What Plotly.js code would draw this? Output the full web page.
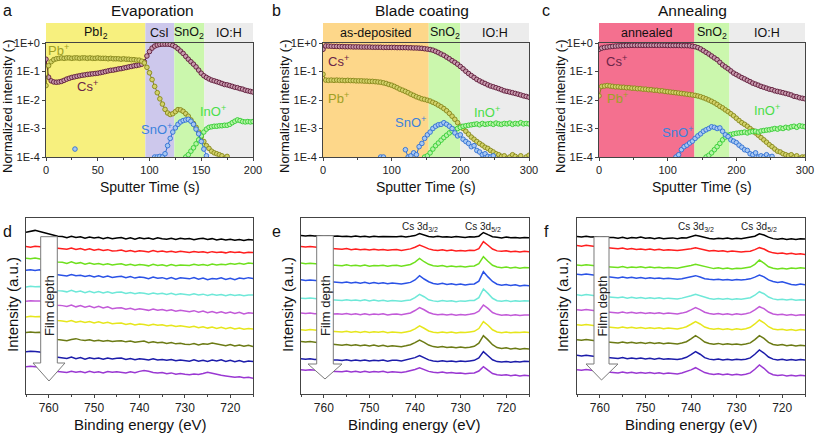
<!DOCTYPE html>
<html><head><meta charset="utf-8">
<script src="https://cdn.plot.ly/plotly-3.0.1.min.js"></script>
<style>html,body{margin:0;padding:0;background:#fff}#chart{width:815px;height:434px}</style>
</head><body><div id="chart"></div>
<script>
const W = 815, H = 434;
const FONT = 'Liberation Sans, Arial, sans-serif';

// ---------- sampling grids ----------
const tA = []; for (let t = 0; t <= 200; t += 2.5) tA.push(t);   // panel a sputter time (s)
const tBC = []; for (let t = 0; t <= 300; t += 4) tBC.push(t);   // panels b, c sputter time (s)
const eV = []; for (let e = 765; e >= 715; e--) eV.push(e);      // binding energy (eV)

// ---------- panel a : Evaporation ----------
const aCs = [0.27,0.063,0.047,0.043,0.042,0.043,0.045,0.049,0.054,0.058,0.062,0.065,0.068,0.071,0.074,0.076,0.079,0.081,0.083,0.085,0.087,0.091,0.095,0.1,0.105,0.11,0.112,0.117,0.123,0.126,0.132,0.138,0.145,0.151,0.158,0.162,0.17,0.18,0.22,0.35,0.5,0.66,0.78,0.85,0.89,0.91,0.91,0.91,0.89,0.83,0.74,0.63,0.52,0.43,0.34,0.27,0.22,0.18,0.145,0.112,0.087,0.071,0.062,0.055,0.05,0.047,0.044,0.041,0.038,0.035,0.034,0.032,0.03,0.028,0.027,0.025,0.024,0.022,0.021,0.02,0.019];
const aPb = [0.032,0.16,0.22,0.26,0.28,0.29,0.3,0.29,0.3,0.3,0.29,0.3,0.3,0.29,0.3,0.3,0.29,0.3,0.29,0.29,0.3,0.29,0.29,0.29,0.28,0.29,0.28,0.28,0.28,0.27,0.28,0.27,0.27,0.26,0.26,0.25,0.25,0.23,0.2,0.14,0.09,0.052,0.03,0.018,0.011,0.0072,0.0047,0.0035,0.0031,0.0033,0.0039,0.0046,0.0045,0.004,0.0033,0.0027,0.002,0.0015,0.0011,0.00075,0.00052,0.00035,0.00025,0.0002,0.00016,0.00014,0.00013,0.00012,0.00011,0.00009,0.000105,0.00008];
const aSnOStart = 105;
const aSnO = [1.0e-4,1.0e-4,1.05e-4,1.0e-4,1.3e-4,2.5e-4,4.5e-4,7.5e-4,1.05e-3,1.4e-3,1.7e-3,1.9e-3,2.0e-3,2.1e-3,1.8e-3,1.4e-3,9.5e-4,6.5e-4,3.5e-4,1.9e-4,1.1e-4];
const aSnOLoneT = [28], aSnOLone = [1.9e-4];
const aInOStart = 135;
const aInO = [1.0e-4,1.2e-4,1.6e-4,2.1e-4,2.9e-4,4.0e-4,5.5e-4,7.5e-4,9.5e-4,1.1e-3,1.15e-3,1.2e-3,1.2e-3,1.25e-3,1.25e-3,1.3e-3,1.3e-3,1.4e-3,1.6e-3,1.8e-3,2.0e-3,1.9e-3,1.75e-3,1.7e-3,1.75e-3,1.7e-3,1.75e-3];
const aBandNames = ['PbI<sub>2</sub>','CsI','SnO<sub>2</sub>','IO:H'];
const aBandEdges = [0,96,124,153,200];

// ---------- panel b : Blade coating ----------
const bCs = [0.6,0.79,0.78,0.77,0.76,0.76,0.75,0.75,0.74,0.74,0.74,0.73,0.73,0.73,0.72,0.72,0.72,0.72,0.71,0.71,0.71,0.71,0.7,0.7,0.7,0.7,0.7,0.69,0.69,0.69,0.69,0.68,0.68,0.67,0.67,0.66,0.65,0.63,0.61,0.59,0.56,0.51,0.46,0.41,0.37,0.32,0.28,0.24,0.21,0.18,0.15,0.125,0.102,0.085,0.072,0.062,0.053,0.047,0.042,0.038,0.034,0.031,0.029,0.027,0.025,0.023,0.021,0.02,0.019,0.018,0.017,0.016,0.015,0.014,0.0133,0.0125];
const bPb = [0.08,0.05,0.049,0.05,0.049,0.05,0.049,0.049,0.048,0.049,0.048,0.048,0.047,0.047,0.047,0.046,0.046,0.045,0.045,0.044,0.043,0.042,0.04,0.038,0.035,0.033,0.03,0.027,0.024,0.022,0.02,0.018,0.016,0.0145,0.013,0.012,0.011,0.0105,0.0098,0.0092,0.0083,0.0075,0.0066,0.0058,0.005,0.0042,0.0034,0.0027,0.0021,0.0016,0.0012,0.001,0.0008,0.00063,0.0005,0.00042,0.00035,0.0003,0.00026,0.00022,0.0002,0.00017,0.00015,0.00013,0.00012,0.000105,0.00011,0.00009,0.0001,0.00012,0.000105,0.00009,0.00011,0.00008,0.0001,0.000115];
const bSnOStart = 84;
const bSnO = [1.0e-4,1.0e-4,null,null,null,null,null,null,null,1.8e-4,1.0e-4,1.1e-4,1.4e-4,1.2e-4,2.3e-4,3.0e-4,4.5e-4,6.0e-4,7.5e-4,1.0e-3,1.2e-3,1.35e-3,1.4e-3,1.6e-3,1.4e-3,1.2e-3,1.0e-3,7e-4,5.5e-4,6e-4,4.2e-4,3.5e-4,3e-4,2.3e-4,2.5e-4,1.7e-4,1.5e-4,1.2e-4,1.3e-4,1.05e-4,1.0e-4,1.1e-4];
const bInOStart = 148;
const bInO = [1.0e-4,1.1e-4,1.4e-4,1.9e-4,2.5e-4,3.1e-4,3.9e-4,4.8e-4,5.8e-4,7e-4,8.2e-4,9.2e-4,1.0e-3,1.1e-3,1.2e-3,1.25e-3,1.3e-3,1.35e-3,1.4e-3,1.45e-3,1.35e-3,1.5e-3,1.4e-3,1.45e-3,1.5e-3,1.4e-3,1.55e-3,1.45e-3,1.4e-3,1.5e-3,1.45e-3,1.55e-3,1.4e-3,1.5e-3,1.45e-3,1.6e-3,1.45e-3,1.5e-3,1.45e-3];
const bBandNames = ['as-deposited','SnO<sub>2</sub>','IO:H'];
const bBandEdges = [0,154,200,300];

// ---------- panel c : Annealing ----------
const cCs = [0.6,0.66,0.7,0.72,0.74,0.76,0.78,0.79,0.8,0.81,0.82,0.82,0.83,0.83,0.83,0.83,0.83,0.83,0.83,0.83,0.83,0.83,0.83,0.83,0.83,0.82,0.82,0.82,0.82,0.82,0.81,0.81,0.81,0.8,0.77,0.74,0.69,0.62,0.54,0.47,0.41,0.35,0.3,0.26,0.21,0.17,0.145,0.125,0.105,0.088,0.078,0.069,0.061,0.055,0.049,0.044,0.039,0.036,0.033,0.03,0.028,0.026,0.024,0.023,0.021,0.02,0.019,0.018,0.017,0.016,0.015,0.0135,0.013,0.012,0.0115,0.011];
const cPb = [0.014,0.03,0.031,0.032,0.031,0.03,0.029,0.029,0.028,0.028,0.027,0.027,0.026,0.026,0.025,0.025,0.024,0.024,0.023,0.023,0.022,0.022,0.021,0.021,0.02,0.0195,0.019,0.0185,0.018,0.0175,0.017,0.0165,0.016,0.0155,0.015,0.0145,0.0138,0.013,0.012,0.011,0.01,0.009,0.008,0.007,0.006,0.0053,0.0045,0.0039,0.0033,0.0028,0.0023,0.0019,0.0016,0.0014,0.0012,0.001,0.00085,0.0007,0.00058,0.00048,0.0004,0.00033,0.00027,0.00023,0.00019,0.00016,0.00015,0.00013,0.00012,0.00011,0.00012,0.0001,0.00011,0.00009,0.0001,0.0001];
const cSnOStart = 112;
const cSnO = [1.0e-4,1.2e-4,1.8e-4,2.3e-4,2.6e-4,3.1e-4,3.6e-4,4.5e-4,5.5e-4,6.5e-4,8e-4,9e-4,1.0e-3,1.15e-3,1.1e-3,1.0e-3,1.05e-3,8e-4,6e-4,5.2e-4,4e-4,3.6e-4,3.2e-4,2.6e-4,2.2e-4,1.8e-4,1.7e-4,1.3e-4,1.2e-4,1.4e-4,1.0e-4,1.1e-4,1.0e-4,1.2e-4,1.0e-4,1.05e-4];
const cInOStart = 156;
const cInO = [1.0e-4,1.15e-4,1.4e-4,1.8e-4,2.3e-4,3e-4,4e-4,5e-4,5.8e-4,6.2e-4,6.5e-4,6.8e-4,7e-4,7.2e-4,7.5e-4,7e-4,7.6e-4,7.8e-4,8e-4,7.5e-4,8.2e-4,8.5e-4,8.8e-4,9e-4,9.5e-4,1.0e-3,9.5e-4,1.05e-3,1.0e-3,1.1e-3,1.05e-3,1.15e-3,1.2e-3,1.1e-3,1.25e-3,1.2e-3,1.15e-3];
const cBandNames = ['annealed','SnO<sub>2</sub>','IO:H'];
const cBandEdges = [0,139,190,300];

// ---------- XPS depth spectra (relative intensity x100, top spectrum first) ----------
const specD = [
 [40,46,52,45,36,28,20,14,12,4,13,6,10,1,9,3,7,-2,5,-3,2,6,-4,3,-5,4,-2,2,-6,3,-3,-6,1,-7,0,-5,-1,-9,-3,0,-8,-2,-10,-4,-11,-6,-13,-7,-14,-8,-11],
 [46,42,48,44,40,38,36,35,34,29,37,27,33,24,31,22,28,20,26,17,19,23,14,21,12,19,16,11,20,13,17,10,16,9,15,13,7,14,9,12,6,13,8,11,5,12,7,10,4,9,8],
 [70,66,72,68,60,54,48,45,43,36,46,35,41,31,39,30,36,27,34,26,30,33,24,31,22,29,26,20,30,23,27,19,28,21,26,25,22,30,24,29,23,32,26,31,28,35,30,37,31,38,36],
 [92,95,90,94,86,76,66,62,60,54,64,56,58,50,57,48,55,46,53,44,49,52,42,50,40,47,44,36,47,39,43,35,44,33,42,38,35,44,33,41,30,37,34,42,31,39,29,40,36,43,38],
 [82,86,83,85,78,70,62,58,56,50,60,49,55,45,54,44,52,43,50,41,47,49,40,46,38,44,41,35,43,36,40,33,41,31,37,34,29,37,30,35,27,34,28,33,25,32,26,31,24,30,29],
 [88,92,90,91,84,76,68,63,60,55,64,52,60,50,57,47,56,44,52,40,44,46,36,42,33,39,35,29,38,30,34,26,33,23,30,25,20,27,17,24,14,22,12,20,10,18,8,16,6,13,10],
 [86,90,87,89,82,74,66,62,60,54,63,52,58,49,56,47,54,45,51,42,44,46,37,43,34,40,36,30,38,31,35,27,32,24,28,22,18,25,15,22,13,20,11,18,9,16,7,14,5,11,7],
 [84,88,85,86,75,60,46,38,35,30,38,44,36,32,37,28,34,27,32,26,29,30,23,28,20,26,28,18,24,17,20,13,18,10,14,7,5,12,3,10,8,16,9,4,-2,5,-4,3,-6,1,-8],
 [58,62,60,57,48,36,26,22,20,15,24,13,20,10,19,12,18,9,17,11,15,17,8,14,6,13,9,4,12,5,8,2,7,-1,5,0,-3,5,-4,3,-6,4,-2,6,-5,2,-7,1,-8,-3,-6],
 [60,63,61,58,50,40,32,29,28,22,31,24,29,21,30,23,27,20,29,24,28,25,19,27,21,30,36,31,22,19,23,15,20,12,16,11,8,13,10,16,24,18,9,4,0,-3,-8,-5,-11,-9,-15]
];
const specE = [
 [18,16,19,15,17,14,16,13,15,12,14,10,15,11,13,9,14,10,12,11,13,10,14,9,13,18,31,20,12,9,13,8,11,7,12,9,6,10,8,14,38,24,11,7,3,8,4,6,2,5,4],
 [47,43,46,42,40,37,35,33,32,28,33,26,30,25,29,24,28,23,27,22,25,27,21,26,31,42,56,44,31,24,20,25,19,23,18,21,17,22,20,33,78,55,30,18,15,19,12,16,11,15,13],
 [38,34,37,33,31,29,27,26,25,21,27,20,24,19,26,18,23,20,24,17,22,24,18,23,29,45,69,47,30,21,17,22,15,19,14,18,13,17,19,34,80,50,24,13,8,12,6,11,5,9,8],
 [29,25,28,24,22,19,17,15,14,10,15,8,13,7,12,5,11,4,9,3,8,6,1,7,12,28,56,34,16,5,0,6,-2,3,-4,2,-5,0,2,20,82,48,18,0,-6,-2,-9,-4,-11,-7,-10],
 [9,6,10,5,4,2,1,-1,-2,-6,-1,-7,-3,-8,-2,-9,-4,-10,-5,-11,-7,-9,-12,-6,-3,12,34,18,-2,-9,-13,-7,-12,-8,-14,-9,-11,-7,-6,12,69,40,8,-8,-12,-7,-13,-9,-12,-8,-10],
 [11,8,12,7,9,6,8,5,7,3,8,2,6,1,7,0,5,2,6,-1,4,5,0,6,12,28,47,33,15,5,0,4,-2,3,-3,2,-1,3,8,24,64,42,15,3,-3,1,-4,0,-5,-2,-1],
 [2,-1,3,-2,-3,-5,-6,-8,-9,-12,-8,-14,-10,-15,-9,-16,-11,-14,-10,-17,-13,-15,-18,-12,-6,8,27,12,-6,-14,-17,-12,-18,-13,-19,-14,-16,-12,-8,10,55,32,2,-12,-17,-13,-18,-14,-16,-12,-15],
 [26,22,25,20,17,13,10,7,5,1,6,-1,4,-3,3,-4,2,-6,0,-7,-3,-5,-9,-3,4,18,35,20,2,-8,-12,-7,-14,-10,-15,-11,-16,-12,-6,14,64,36,4,-14,-20,-16,-23,-19,-25,-21,-24],
 [12,9,13,8,9,6,7,4,5,1,6,0,4,-1,5,-2,3,-1,4,-3,2,3,-2,4,9,20,33,20,5,-2,-5,0,-6,-2,-7,-3,-6,-2,2,18,59,32,6,-6,-9,-5,-10,-6,-8,-4,-6],
 [40,37,41,36,35,33,32,31,31,27,32,26,31,25,30,24,29,26,30,23,28,27,23,28,33,42,54,41,30,24,21,25,19,22,17,20,14,18,20,32,61,38,16,8,4,8,2,6,0,4,2]
];
const specF = [
 [12,9,14,8,10,7,9,5,6,1,7,-1,5,2,8,0,4,-2,3,-3,1,3,-2,4,2,9,20,14,4,-1,-4,1,-3,2,-5,0,-3,2,5,14,30,22,8,-2,-6,-1,-7,-2,-8,-3,-5],
 [53,49,54,48,46,43,41,38,37,32,36,29,34,27,31,26,30,24,28,22,26,25,20,24,27,32,39,33,22,18,21,15,19,13,17,12,10,14,16,26,39,30,14,5,1,4,-2,2,-4,-1,-5],
 [26,23,28,22,20,18,17,15,14,10,15,8,13,9,14,7,12,8,11,6,10,9,5,11,15,22,30,23,11,5,2,7,1,6,0,4,2,7,12,30,58,38,14,4,0,5,-1,6,2,8,4],
 [66,62,67,61,58,55,52,48,46,41,47,40,45,39,44,38,42,37,41,36,39,37,32,36,41,48,56,47,36,32,29,33,27,31,26,30,28,31,35,46,60,48,28,18,12,16,8,-2,-5,2,-3],
 [31,27,32,26,24,21,19,17,15,11,16,9,14,8,13,7,12,6,11,5,9,8,3,9,14,24,34,25,12,6,2,7,1,6,0,5,1,6,12,28,51,38,16,4,-2,2,-4,1,-5,-1,-3],
 [33,29,34,28,26,23,21,19,17,12,18,11,16,10,15,9,14,8,13,7,11,10,5,11,18,32,47,34,17,8,4,9,2,7,1,6,2,7,14,32,53,40,18,5,0,4,-3,2,-4,1,-1],
 [35,31,36,30,28,25,23,21,19,14,20,13,18,12,17,11,16,10,15,9,13,12,7,13,22,38,55,40,20,10,6,11,4,9,3,8,4,9,18,40,66,48,22,7,2,6,-1,4,-2,3,1],
 [37,33,38,32,30,27,25,23,21,16,22,15,20,14,19,13,18,12,17,11,15,14,9,15,24,42,64,45,22,12,8,13,6,11,5,9,4,9,16,38,64,46,20,6,1,5,-2,3,-4,1,-2],
 [35,31,36,30,28,25,23,21,19,14,20,13,18,12,17,11,16,10,15,9,13,12,7,13,22,40,59,42,20,10,6,11,5,10,4,9,6,10,18,42,70,50,24,10,5,9,3,8,2,7,5],
 [41,37,42,36,34,31,29,27,25,20,26,19,24,18,23,17,22,16,21,15,19,18,13,19,27,40,54,40,22,14,10,15,8,13,7,11,7,11,20,44,72,50,22,8,3,7,0,5,-1,4,2]
];
const specColors = ['#000000','#ff1e1e','#6fe01e','#2a52e6','#6ee8d8','#c25ad8','#e6e61c','#6b7a14','#1c1caa','#9a38d2'];
const peakNames = ['Cs 3d<sub>3/2</sub>','Cs 3d<sub>5/2</sub>'];
const peakPos = [739, 725];

// ---------- helpers ----------
const px = x => x / W, py = y => 1 - y / H;
const ST = {
  Cs:  {ring:'#5c1838', fill:'#c89aad', txt:'#6b2448', label:'Cs<sup>+</sup>'},
  Pb:  {ring:'#86861a', fill:'#d2d26a', txt:'#a0a024', label:'Pb<sup>+</sup>'},
  SnO: {ring:'#2e6ed2', fill:'#a8c8f2', txt:'#3c82dc', label:'SnO<sup>+</sup>'},
  InO: {ring:'#32cc32', fill:'#b6f4a6', txt:'#4ade4a', label:'InO<sup>+</sup>'}
};
function seg(grid, t0, vals){ const i = grid.indexOf(t0); return grid.slice(i, i + vals.length); }
function sTrace(x, y, key, n, mode){
  return {type:'scatter', mode: mode || 'lines+markers', x, y, xaxis:'x'+n, yaxis:'y'+n,
    line:{color:ST[key].ring, width:1},
    marker:{size:4.6, color:ST[key].fill, line:{color:ST[key].ring, width:0.9}},
    showlegend:false, hoverinfo:'skip', connectgaps:false};
}
const traces = [];
// panel a
traces.push(sTrace(tA.slice(0,aCs.length), aCs, 'Cs', ''));
traces.push(sTrace(tA.slice(0,aPb.length), aPb, 'Pb', ''));
traces.push(sTrace(seg(tA,aInOStart,aInO), aInO, 'InO', ''));
traces.push(sTrace(seg(tA,aSnOStart,aSnO), aSnO, 'SnO', ''));
traces.push(sTrace(aSnOLoneT, aSnOLone, 'SnO', '', 'markers'));
// panel b
traces.push(sTrace(tBC, bCs, 'Cs', '2'));
traces.push(sTrace(tBC, bPb, 'Pb', '2'));
traces.push(sTrace(seg(tBC,bInOStart,bInO), bInO, 'InO', '2'));
traces.push(sTrace(seg(tBC,bSnOStart,bSnO), bSnO, 'SnO', '2'));
// panel c
traces.push(sTrace(tBC, cCs, 'Cs', '3'));
traces.push(sTrace(tBC, cPb, 'Pb', '3'));
traces.push(sTrace(seg(tBC,cInOStart,cInO), cInO, 'InO', '3'));
traces.push(sTrace(seg(tBC,cSnOStart,cSnO), cSnO, 'SnO', '3'));
// XPS panels
[[specD,'4'],[specE,'5'],[specF,'6']].forEach(([spec,n]) => {
  spec.forEach((row,k) => {
    traces.push({type:'scatter', mode:'lines', x:eV, y:row.map(v => v/100 + (9-k)),
      xaxis:'x'+n, yaxis:'y'+n, line:{color:specColors[k], width:1.5}, showlegend:false, hoverinfo:'skip'});
  });
});

// ---------- axes ----------
const frame = {showline:true, mirror:true, linecolor:'#444', linewidth:1, showgrid:false, zeroline:false};
const tickF = {family:FONT, size:11, color:'#222'};
function topX(dom, max, dt){ return Object.assign({}, frame, {domain:[px(dom[0]),px(dom[1])], range:[0,max], dtick:dt, tick0:0,
  ticks:'outside', ticklen:3, tickcolor:'#444', tickfont:tickF, minor:{dtick:dt/2, ticks:'outside', ticklen:2, tickcolor:'#444'}}); }
function topY(){ return Object.assign({}, frame, {type:'log', domain:[py(157),py(43)], range:[-4,0],
  tickvals:[1,0.1,0.01,0.001,0.0001], ticktext:['1E+0','1E-1','1E-2','1E-3','1E-4'],
  ticks:'outside', ticklen:3, tickcolor:'#444', tickfont:tickF}); }
function botX(dom){ return Object.assign({}, frame, {domain:[px(dom[0]),px(dom[1])], range:[765,715], dtick:10, tick0:720,
  ticks:'outside', ticklen:3, tickcolor:'#444', tickfont:{family:FONT, size:12, color:'#222'},
  minor:{dtick:5, ticks:'outside', ticklen:2, tickcolor:'#444'}}); }
function botY(){ return Object.assign({}, frame, {domain:[py(394),py(218)], range:[-1.18,10.33], showticklabels:false, ticks:''}); }

const layout = {
  width:W, height:H, margin:{l:0,r:0,t:0,b:0}, paper_bgcolor:'#fff', plot_bgcolor:'rgba(0,0,0,0)',
  font:{family:FONT, size:12, color:'#111'}, showlegend:false,
  xaxis: Object.assign(topX([46,253],200,50), {anchor:'y'}),  yaxis: Object.assign(topY(), {anchor:'x'}),
  xaxis2:Object.assign(topX([323,529],300,100),{anchor:'y2'}), yaxis2:Object.assign(topY(), {anchor:'x2'}),
  xaxis3:Object.assign(topX([599,805],300,100),{anchor:'y3'}), yaxis3:Object.assign(topY(), {anchor:'x3'}),
  xaxis4:Object.assign(botX([26,253]),{anchor:'y4'}), yaxis4:Object.assign(botY(),{anchor:'x4'}),
  xaxis5:Object.assign(botX([301,529]),{anchor:'y5'}), yaxis5:Object.assign(botY(),{anchor:'x5'}),
  xaxis6:Object.assign(botX([577,805]),{anchor:'y6'}), yaxis6:Object.assign(botY(),{anchor:'x6'}),
  shapes:[], annotations:[]
};

// ---------- bands ----------
function addBands(xa, names, edges, colors){
  names.forEach((nm,i) => {
    layout.shapes.push({type:'rect', xref:xa, yref:'paper', x0:edges[i], x1:edges[i+1], y0:py(157), y1:py(23),
      fillcolor:colors[i], line:{width:0}, layer:'below'});
    layout.annotations.push({text:nm, xref:xa, yref:'paper', x:(edges[i]+edges[i+1])/2, y:py(33), showarrow:false,
      font:{family:FONT, size:12.5, color:'#111'}, xanchor:'center', yanchor:'middle'});
  });
}
addBands('x',  aBandNames, aBandEdges, ['#f7f07e','#cdc8ec','#cbf7ad','#ececec']);
addBands('x2', bBandNames, bBandEdges, ['#fdd78a','#cbf7ad','#ececec']);
addBands('x3', cBandNames, cBandEdges, ['#f4708f','#cbf7ad','#ececec']);

// ---------- text ----------
function A(text, x, y, size, color, extra){
  return Object.assign({text, xref:'paper', yref:'paper', x:px(x), y:py(y), showarrow:false,
    font:{family:FONT, size, color}, xanchor:'center', yanchor:'middle'}, extra || {});
}
const ann = layout.annotations;
// panel letters + titles
[['a',7,11],['b',276,11],['c',546,11],['d',7,231],['e',276,231],['f',546,231]].forEach(([t,x,y]) => ann.push(A(t,x,y,16,'#111')));
ann.push(A('Evaporation',152,11,15.5,'#111'));
ann.push(A('Blade coating',422,11,15.5,'#111'));
ann.push(A('Annealing',692,11,15.5,'#111'));
// top axis titles
[[150,8],[426,285],[702,561]].forEach(([cx,yx]) => {
  ann.push(A('Sputter Time (s)', cx, 187, 14, '#111'));
  ann.push(A('Normalized intensity (-)', yx, 106, 13, '#111', {textangle:-90}));
});
// bottom axis titles
[[140,12],[415,287],[691,562]].forEach(([cx,yx]) => {
  ann.push(A('Binding energy (eV)', cx, 424, 15, '#111'));
  ann.push(A('Intensity (a.u.)', yx, 305, 15, '#111', {textangle:-90}));
});
// species labels
const lab = [
  ['Pb',58,50],['Cs',87,86],['SnO',156,129],['InO',213,111],
  ['Cs',338,61],['Pb',338,98],['SnO',410,122],['InO',487,112],
  ['Cs',616,61],['Pb',617,98],['SnO',677,132],['InO',767,110]
];
lab.forEach(([k,x,y]) => ann.push(A(ST[k].label, x, y, 13, ST[k].txt)));
// peak labels
[['x5'],['x6']].forEach(([xa]) => peakNames.forEach((nm,i) => ann.push({text:nm, xref:xa, yref:'paper', x:peakPos[i], y:py(227),
  showarrow:false, font:{family:FONT, size:10, color:'#222'}, xanchor:'center', yanchor:'middle'})));

// film-depth arrows
function arrow(x0, x1, hx0, hx1, tip, yTop, yRect, yTip){
  const p = [[x0,yTop],[x1,yTop],[x1,yRect],[hx1,yRect],[tip,yTip],[hx0,yRect],[x0,yRect]];
  const path = 'M ' + p.map(([x,y]) => px(x).toFixed(5) + ',' + py(y).toFixed(5)).join(' L ') + ' Z';
  layout.shapes.push({type:'path', xref:'paper', yref:'paper', path, fillcolor:'#ffffff', line:{color:'#7a7a7a', width:1}, layer:'above'});
  ann.push(A('Film depth', (x0+x1)/2, 306, 13, '#222', {textangle:-90}));
}
arrow(40.7, 57.3, 33, 65, 49, 236.7, 363, 381);
arrow(316.7, 333.3, 308, 342, 325, 235.7, 364, 379);
arrow(594, 609, 586, 618, 601.5, 236.7, 364, 380);

Plotly.newPlot('chart', traces, layout, {staticPlot:true, displayModeBar:false});
</script>
</body></html>
